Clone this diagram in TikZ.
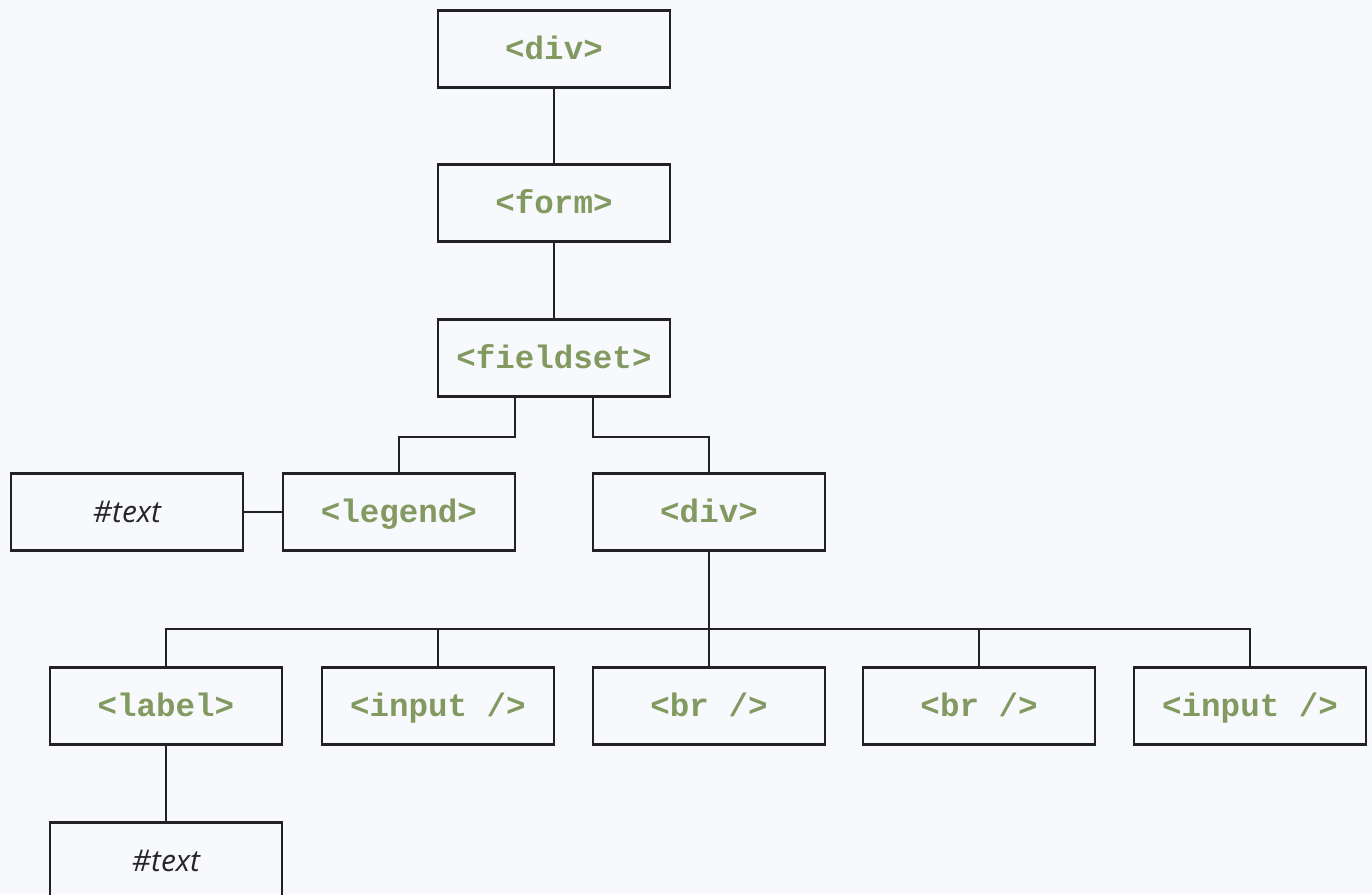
\documentclass[tikz,border=0pt]{standalone}
\usepackage{fontspec}
\usepackage{xcolor}
\usepackage{tikz}
\newfontfamily\tagfont{Liberation Mono}
\newfontfamily\txtfont{Open Sans}
\definecolor{tagcol}{HTML}{829A60}
\definecolor{pagebg}{HTML}{F8F9FC}
\definecolor{edgecol}{HTML}{222222}

\tikzset{
  elem/.style={draw=edgecol, line width=1.2pt, minimum width=4.64cm, minimum height=1.54cm,
    inner sep=0pt, text height=14pt, text depth=2pt,
    font=\tagfont\bfseries\fontsize{18.5}{20}\selectfont, text=tagcol},
  txt/.style={elem, font=\txtfont\itshape\fontsize{17}{19}\selectfont, text=black!85},
  wire/.style={draw=edgecol, line width=1.2pt}
}

\begin{document}
\begin{tikzpicture}[x=0.02cm, y=-0.02cm]
		% Page
		\fill[pagebg] (0,0) rectangle (1372,894);
		\clip (0,0) rectangle (1372,894);

		% Top of the tree
		\node[elem] (div1) at (554,49) {<div>};
		\node[elem] (form) at (554,203) {<form>};
		\node[elem] (fs) at (554,358) {<fieldset>};

		% Second level
		\node[txt] (txt1) at (127,512) {\#text};
		\node[elem] (leg) at (399,512) {<legend>};
		\node[elem] (div2) at (709,512) {<div>};

		% Children of the inner div
		\node[elem] (lab) at (166,706) {<label>};
		\node[elem] (in1) at (438,706) {<input />};
		\node[elem] (br1) at (709,706) {<br />};
		\node[elem] (br2) at (979,706) {<br />};
		\node[elem] (in2) at (1250,706) {<input />};
		\node[txt] (txt2) at (166,861) {\#text};

		% Connectors
		\draw[wire] (div1) -- (form);
		\draw[wire] (form) -- (fs);
		\draw[wire] ([xshift=-0.78cm]fs.south) -- ++(0,39) -| (leg.north);
		\draw[wire] ([xshift=0.78cm]fs.south) -- ++(0,39) -| (div2.north);
		\draw[wire] (txt1) -- (leg);
		\coordinate (bus) at (709,629);
		\draw[wire] (div2.south) -- (bus);
		\foreach \n in {lab,in1,br1,br2,in2}
			\draw[wire] (\n.north) |- (bus);
		\draw[wire] (lab) -- (txt2);
	\end{tikzpicture}
\end{document}
